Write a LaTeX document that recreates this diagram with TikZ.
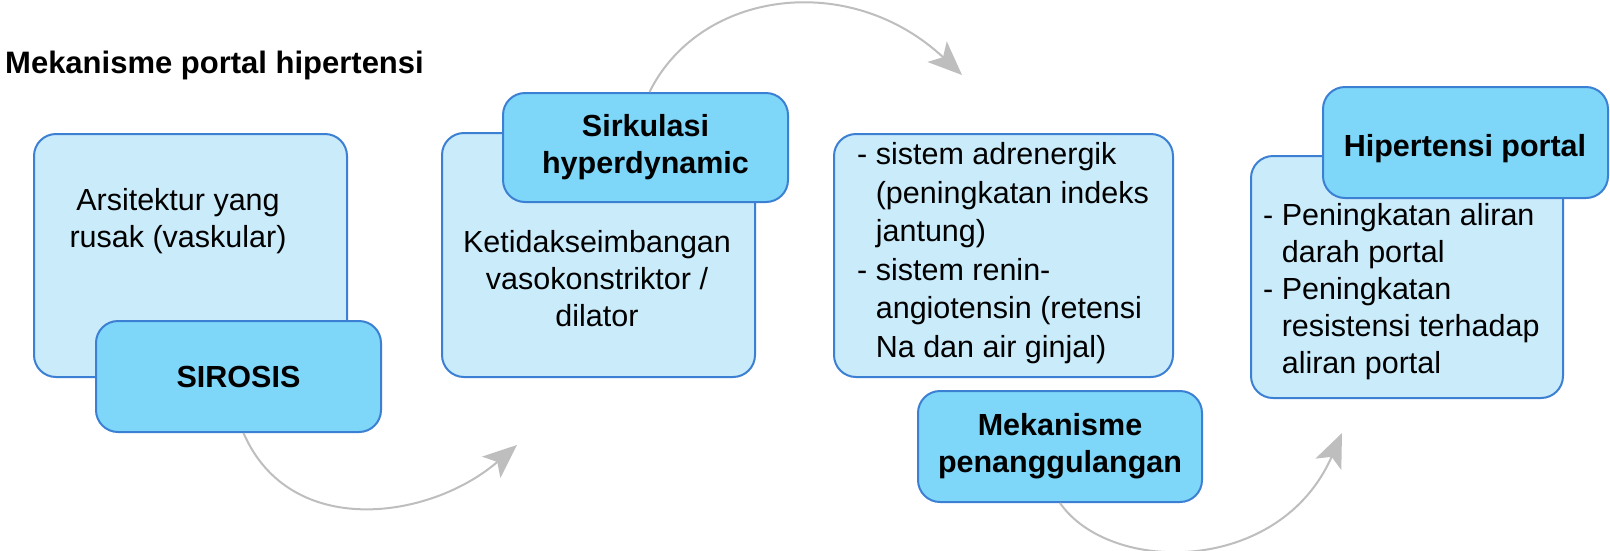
\documentclass[tikz,border=0pt]{standalone}
\usepackage{fontspec}
\setmainfont{Liberation Sans}
\usetikzlibrary{arrows.meta}
\definecolor{lightfill}{RGB}{202,235,250}
\definecolor{darkfill}{RGB}{126,215,249}
\definecolor{boxline}{RGB}{60,128,212}
\definecolor{arrowgray}{RGB}{190,190,190}
\begin{document}
\begin{tikzpicture}[x=1pt,y=-1pt,
  lightbox/.style={draw=boxline, line width=2pt, fill=lightfill, rounded corners=22pt, inner sep=0pt},
  darkbox/.style={draw=boxline, line width=2pt, fill=darkfill, rounded corners=22pt, inner sep=0pt,
     align=center, font=\fontsize{30.5}{37}\selectfont\bfseries},
  bodytext/.style={inner sep=0pt, font=\fontsize{30.5}{37}\selectfont},
  arr/.style={draw=arrowgray, line width=2pt, -{Stealth[length=34pt,width=28pt,inset=8pt,fill=arrowgray]}}
]
\useasboundingbox (0,0) rectangle (1610,550);
\fill[white] (0,0) rectangle (1610,550);

\node[inner sep=0pt, anchor=west, font=\fontsize{31}{37}\selectfont\bfseries] (title) at (5,65) {Mekanisme portal hipertensi};

% box 1
\node[lightbox, minimum width=313pt, minimum height=243pt] (b1) at (190.5,255.5) {};
\node[bodytext, align=center] (b1t) at (178,221) {Arsitektur yang\\rusak (vaskular)};
\node[darkbox, minimum width=285pt, minimum height=111pt] (sir) at (238.5,376.5) {SIROSIS};

% box 2
\node[lightbox, minimum width=313pt, minimum height=244pt] (b2) at (598.5,255) {};
\node[bodytext, align=center] (b2t) at (597,279) {Ketidakseimbangan\\vasokonstriktor /\\dilator};
\node[darkbox, minimum width=285pt, minimum height=109pt] (sk) at (645.5,147.5) {Sirkulasi\\hyperdynamic};

% box 3
\node[lightbox, minimum width=339pt, minimum height=243pt] (b3) at (1003.5,255.5) {};
\node[bodytext, align=left, anchor=west, font=\fontsize{30.5}{38.5}\selectfont] (b3t) at (857,253) {- sistem adrenergik\\\hphantom{- }(peningkatan indeks\\\hphantom{- }jantung)\\- sistem renin-\\\hphantom{- }angiotensin (retensi\\\hphantom{- }Na dan air ginjal)};
\node[darkbox, minimum width=284pt, minimum height=111pt] (mk) at (1060,446.5) {Mekanisme\\penanggulangan};

% box 4
\node[lightbox, minimum width=312pt, minimum height=242pt] (b4) at (1407,277) {};
\node[bodytext, align=left, anchor=west] (b4t) at (1263,292) {- Peningkatan aliran\\\hphantom{- }darah portal\\- Peningkatan\\\hphantom{- }resistensi terhadap\\\hphantom{- }aliran portal};
\node[darkbox, minimum width=285pt, minimum height=111pt] (hp) at (1465.5,142.5) {};
\node[inner sep=0pt, font=\fontsize{30.5}{37}\selectfont\bfseries] (hpt) at (1465,149) {Hipertensi portal};

% arrows
\coordinate (t1) at (517,445);
\coordinate (t2) at (962,75);
\coordinate (t3) at (1342,433);
\draw[arr] ([xshift=5pt]sir.south) .. controls (290,540) and (430,520) .. (t1);
\draw[arr] ([xshift=4pt]sk.north) .. controls (700,-10) and (850,-30) .. (t2);
\draw[arr] (mk.south) .. controls (1110,575) and (1280,575) .. (t3);
\end{tikzpicture}
\end{document}
